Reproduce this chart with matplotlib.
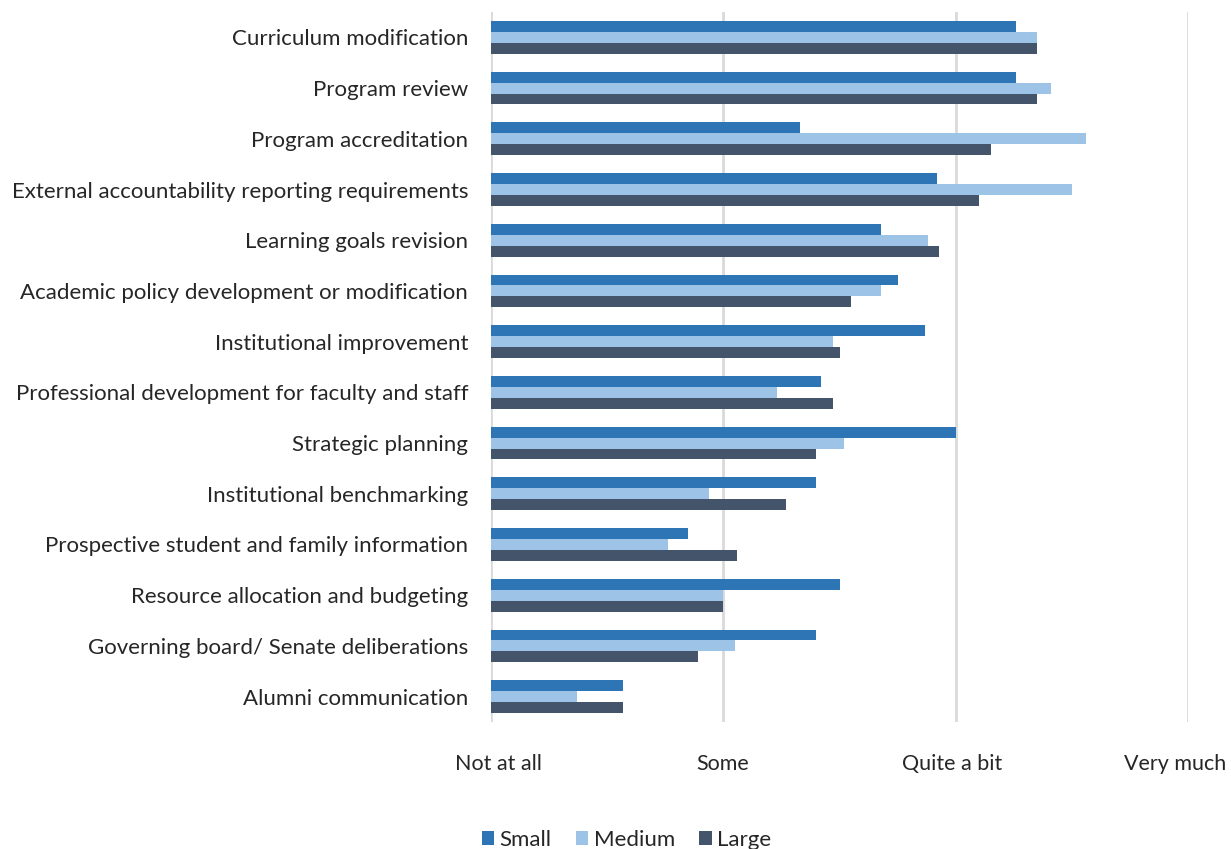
import matplotlib
matplotlib.use("Agg")
import matplotlib.pyplot as plt
import matplotlib.transforms as mtransforms
import numpy as np

categories = [
    "Curriculum modification",
    "Program review",
    "Program accreditation",
    "External accountability reporting requirements",
    "Learning goals revision",
    "Academic policy development or modification",
    "Institutional improvement",
    "Professional development for faculty and staff",
    "Strategic planning",
    "Institutional benchmarking",
    "Prospective student and family information",
    "Resource allocation and budgeting",
    "Governing board/ Senate deliberations",
    "Alumni communication",
]
small = [3.26, 3.26, 2.33, 2.92, 2.68, 2.75, 2.87, 2.42, 3.00, 2.40, 1.85, 2.50, 2.40, 1.57]
medium = [3.35, 3.41, 3.56, 3.50, 2.88, 2.68, 2.47, 2.23, 2.52, 1.94, 1.76, 2.00, 2.05, 1.37]
large = [3.35, 3.35, 3.15, 3.10, 2.93, 2.55, 2.50, 2.47, 2.40, 2.27, 2.06, 2.00, 1.89, 1.57]
tick_labels = ["Not at all", "Some", "Quite a bit", "Very much"]
series_names = ["Small", "Medium", "Large"]

plt.rcParams['font.family'] = ['Lato', 'DejaVu Sans']

fig = plt.figure(figsize=(12.31, 8.49), dpi=100)
ax = fig.add_axes([491/1231, 1-722/849, (1188-491)/1231, (722-12)/849])

colors = ["#2E75B6", "#9DC3E6", "#44546A"]
y = np.arange(len(categories))
h = 0.215
base = 1.0
for i, (vals, c, name) in enumerate(zip([small, medium, large], colors, series_names)):
    ax.barh(y + (i - 1) * h, np.array(vals) - base, left=base, height=h,
            color=c, label=name, zorder=3)

ax.set_xlim(1, 4)
ax.set_ylim(len(categories) - 0.5, -0.5)
ax.set_xticks([1, 2, 3, 4])
ax.set_xticklabels(tick_labels, fontsize=15.5, color="#262626")
ax.set_yticks(y)
ax.set_yticklabels(categories, fontsize=16, color="#262626")
ax.tick_params(axis='x', length=0, pad=23)
ax.tick_params(axis='y', length=0, pad=16.5)
for s in ax.spines.values():
    s.set_visible(False)
ax.xaxis.grid(True, color="#D9D9D9", linewidth=2, zorder=0)
ax.set_axisbelow(True)

# small horizontal shifts of x tick labels (in pixels) to fit within the figure
shifts = [7, -1, -4, -13]
for lab, dx in zip(ax.get_xticklabels(), shifts):
    lab.set_transform(lab.get_transform() + mtransforms.ScaledTranslation(dx / 100, 0, fig.dpi_scale_trans))

leg = fig.legend(loc="lower center", bbox_to_anchor=(0.509, -0.025), ncol=3, frameon=False,
                 fontsize=16, handlelength=0.55, handleheight=0.6, handletextpad=0.25,
                 columnspacing=1.1)
for t in leg.get_texts():
    t.set_color("#262626")

fig.savefig("out.png", dpi=100)
